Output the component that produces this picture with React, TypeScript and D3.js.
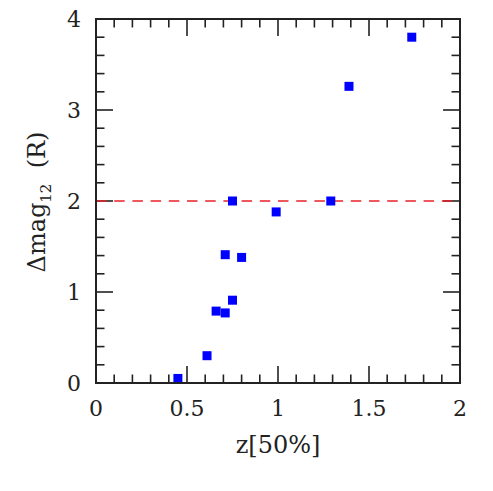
import React, { useRef, useEffect } from "react";
import * as d3 from "d3";

// redshift at 50% vs magnitude difference
const zValues = [0.45, 0.61, 0.66, 0.71, 0.75, 0.71, 0.80, 0.75, 0.99, 1.29, 1.39, 1.735];
const dmagValues = [0.05, 0.30, 0.79, 0.77, 0.91, 1.41, 1.38, 2.0, 1.88, 2.0, 3.26, 3.80];
const xTickLabels = [0, 0.5, 1, 1.5, 2];
const yTickLabels = [0, 1, 2, 3, 4];
const threshold = 2;

export default function App() {
  const ref = useRef<SVGSVGElement>(null);

  useEffect(() => {
    const width = 493;
    const height = 491;
    const margin = { top: 19, right: 33, bottom: 108, left: 96 };
    const w = width - margin.left - margin.right;
    const h = height - margin.top - margin.bottom;

    const svg = d3.select(ref.current);
    svg.selectAll("*").remove();
    svg.attr("width", width).attr("height", height);

    const g = svg.append("g").attr("transform", `translate(${margin.left},${margin.top})`);

    const x = d3.scaleLinear().domain([0, 2]).range([0, w]);
    const y = d3.scaleLinear().domain([0, 4]).range([h, 0]);

    const ink = "#222";
    const minorX = d3.range(0, 2.0001, 0.1);
    const minorY = d3.range(0, 4.0001, 0.2);
    const isMajor = (v: number, step: number) => Math.abs(v / step - Math.round(v / step)) < 1e-6;

    // ticks on all four sides, pointing inward
    const tk = g.append("g").attr("stroke", ink).attr("stroke-width", 1.6);
    minorX.forEach(v => {
      const len = isMajor(v, 0.5) ? 17 : 8.5;
      tk.append("line").attr("x1", x(v)).attr("x2", x(v)).attr("y1", h).attr("y2", h - len);
      tk.append("line").attr("x1", x(v)).attr("x2", x(v)).attr("y1", 0).attr("y2", len);
    });
    minorY.forEach(v => {
      const len = isMajor(v, 1) ? 17 : 8.5;
      tk.append("line").attr("x1", 0).attr("x2", len).attr("y1", y(v)).attr("y2", y(v));
      tk.append("line").attr("x1", w).attr("x2", w - len).attr("y1", y(v)).attr("y2", y(v));
    });

    // dashed threshold line
    g.append("line")
      .attr("x1", 0).attr("x2", w)
      .attr("y1", y(threshold)).attr("y2", y(threshold))
      .attr("stroke", "#e8202a").attr("stroke-width", 1.6)
      .attr("stroke-dasharray", "10.5,7.7");

    // points
    const size = 9;
    g.append("g")
      .selectAll("rect")
      .data(zValues.map((z, i) => ({ z, m: dmagValues[i] })))
      .join("rect")
      .attr("x", d => x(d.z) - size / 2)
      .attr("y", d => y(d.m) - size / 2)
      .attr("width", size)
      .attr("height", size)
      .attr("fill", "#0000ff");

    // frame
    g.append("rect")
      .attr("width", w).attr("height", h)
      .attr("fill", "none").attr("stroke", ink).attr("stroke-width", 2);

    const font = "DejaVu Serif";

    g.append("g")
      .selectAll("text")
      .data(xTickLabels)
      .join("text")
      .attr("x", d => x(d))
      .attr("y", h + 33)
      .attr("text-anchor", "middle")
      .attr("font-family", font)
      .attr("font-size", 22)
      .attr("fill", ink)
      .text(d => String(d));

    g.append("g")
      .selectAll("text")
      .data(yTickLabels)
      .join("text")
      .attr("x", -15)
      .attr("y", d => y(d) + 8)
      .attr("text-anchor", "end")
      .attr("font-family", font)
      .attr("font-size", 22)
      .attr("fill", ink)
      .text(d => String(d));

    g.append("text")
      .attr("x", w / 2)
      .attr("y", h + 70)
      .attr("text-anchor", "middle")
      .attr("font-family", font)
      .attr("font-size", 24)
      .attr("fill", ink)
      .text("z[50%]");

    const yl = g.append("text")
      .attr("transform", `translate(${45 - margin.left},${202 - margin.top}) rotate(-90)`)
      .attr("text-anchor", "middle")
      .attr("font-family", font)
      .attr("font-size", 24)
      .attr("fill", ink);
    yl.append("tspan").text("Δmag");
    yl.append("tspan").attr("font-size", 15).attr("dy", 6).text("12");
    yl.append("tspan").attr("dy", -6).text("\u00a0\u00a0(R)");
  }, []);

  return (
    <div style={{ position: "absolute", left: 0, top: 0 }}>
      <svg ref={ref}></svg>
    </div>
  );
}
